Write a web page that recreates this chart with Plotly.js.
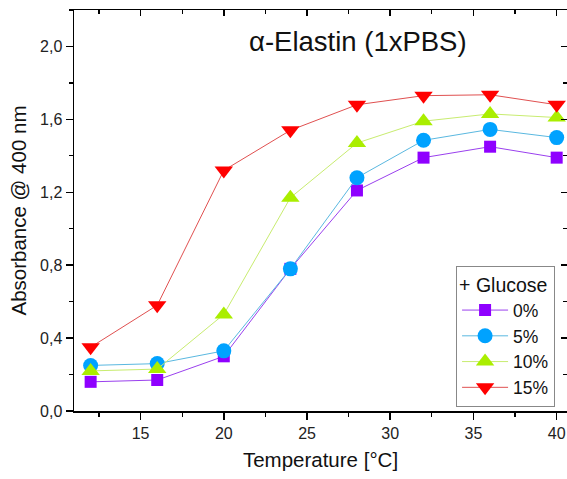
<!DOCTYPE html>
<html>
<head>
<meta charset="utf-8">
<script src="https://cdn.plot.ly/plotly-3.0.1.min.js"></script>
<style>html,body{margin:0;padding:0;background:#fff;}#chart{width:567px;height:479px;}</style>
</head>
<body>
<div id="chart"></div>
<script>
const temperature = [12, 16, 20, 24, 28, 32, 36, 40];
const glucose0  = [0.16, 0.17, 0.30, 0.78, 1.21, 1.39, 1.45, 1.39];
const glucose5  = [0.25, 0.26, 0.33, 0.78, 1.28, 1.485, 1.545, 1.50];
const glucose10 = [0.22, 0.23, 0.53, 1.17, 1.47, 1.59, 1.63, 1.61];
const glucose15 = [0.35, 0.58, 1.32, 1.54, 1.68, 1.73, 1.735, 1.68];
const seriesNames = ['0%', '5%', '10%', '15%'];
const legendTitle = '+ Glucose';
const chartTitle = 'α-Elastin (1xPBS)';

const styles = [
  {symbol: 'square', size: 12, mcolor: '#8f00ff', lcolor: '#9a40ee'},
  {symbol: 'circle', size: 15, mcolor: '#00a2ff', lcolor: '#5ab8e0'},
  {symbol: 'triangle-up', size: 16, mcolor: '#aaee00', lcolor: '#c8ec70'},
  {symbol: 'triangle-down', size: 16, mcolor: '#ff0000', lcolor: '#e05050'}
];
const values = [glucose0, glucose5, glucose10, glucose15];
const traces = values.map((v, i) => ({
  x: temperature, y: v, type: 'scatter', mode: 'lines+markers', name: seriesNames[i],
  line: {color: styles[i].lcolor, width: 1},
  marker: {symbol: styles[i].symbol, size: styles[i].size, color: styles[i].mcolor, line: {width: 0}}
}));

const font = 'Liberation Sans, Arial, sans-serif';
const xr = [11, 40.62], yr = [0, 2.2];
const layout = {
  width: 567, height: 479,
  margin: {l: 74, r: 0, t: 10, b: 68},
  paper_bgcolor: '#fff', plot_bgcolor: '#fff',
  separators: ',.',
  font: {family: font, color: '#222'},
  showlegend: true,
  legend: {
    x: 0.775, y: 0.362, xanchor: 'left', yanchor: 'top',
    bordercolor: '#888', borderwidth: 1, bgcolor: '#fff',
    font: {size: 17.5, family: font, color: '#111'},
    title: {text: legendTitle, font: {size: 19.5, family: font, color: '#111'}},
    tracegroupgap: 0, itemwidth: 46
  },
  xaxis: {
    range: xr, showgrid: false, zeroline: false,
    showline: true, linecolor: '#000', linewidth: 1.5,
    ticks: 'outside', ticklen: 7, tickwidth: 1.5, tickcolor: '#000',
    tick0: 0, dtick: 5,
    minor: {dtick: 2.5, ticks: 'outside', ticklen: 4, tickwidth: 1.2, tickcolor: '#000'},
    tickfont: {size: 16, family: font, color: '#222'},
    title: {text: 'Temperature [°C]', font: {size: 20.5, family: font, color: '#111'}, standoff: 12}
  },
  yaxis: {
    range: yr, showgrid: false, zeroline: false,
    showline: true, linecolor: '#000', linewidth: 1.5,
    ticks: 'outside', ticklen: 7, tickwidth: 1.5, tickcolor: '#000',
    tick0: 0, dtick: 0.4, tickformat: '.1f',
    minor: {dtick: 0.2, ticks: 'outside', ticklen: 4, tickwidth: 1.2, tickcolor: '#000'},
    tickfont: {size: 16, family: font, color: '#222'},
    title: {text: 'Absorbance @ 400 nm', font: {size: 20.5, family: font, color: '#111'}, standoff: 8}
  },
  xaxis2: {
    overlaying: 'x', side: 'top', range: xr, showgrid: false, zeroline: false,
    showline: true, linecolor: '#000', linewidth: 1.5,
    ticks: 'inside', ticklen: 6, tickwidth: 1.5, tickcolor: '#000',
    tick0: 0, dtick: 5, showticklabels: false,
    minor: {dtick: 2.5, ticks: 'inside', ticklen: 4, tickwidth: 1.2, tickcolor: '#000'}
  },
  yaxis2: {
    overlaying: 'y', side: 'right', range: yr, showgrid: false, zeroline: false,
    showline: false,
    ticks: 'inside', ticklen: 6, tickwidth: 1.5, tickcolor: '#000',
    tick0: 0, dtick: 0.4, showticklabels: false,
    minor: {dtick: 0.2, ticks: 'inside', ticklen: 4, tickwidth: 1.2, tickcolor: '#000'}
  },
  annotations: [{
    text: chartTitle, xref: 'paper', yref: 'paper', x: 0.577, y: 0.922,
    xanchor: 'center', yanchor: 'middle', showarrow: false,
    font: {size: 27.5, family: font, color: '#111'}
  }]
};
// dummy trace to activate mirror axes
traces.push({x: [xr[0]], y: [yr[0]], xaxis: 'x2', yaxis: 'y2', mode: 'markers',
  marker: {opacity: 0}, showlegend: false, hoverinfo: 'skip', type: 'scatter'});

Plotly.newPlot('chart', traces, layout, {displayModeBar: false, staticPlot: true});
</script>
</body>
</html>
